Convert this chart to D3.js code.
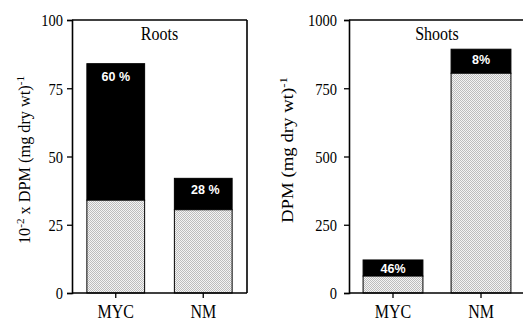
<!DOCTYPE html>
<html><head><meta charset="utf-8">
<script src="https://cdn.jsdelivr.net/npm/d3@7"></script>
<style>body{margin:0;background:#fff}svg{display:block}</style>
</head><body>
<script>
const categories = ["MYC", "NM"];
const rootsLower = [34, 30.5];
const rootsTotal = [84, 42];
const rootsPct = ["60 %", "28 %"];
const rootsTicks = [0, 25, 50, 75, 100];
const shootsLower = [62, 805];
const shootsTotal = [121, 893];
const shootsPct = ["46%", "8%"];
const shootsTicks = [0, 250, 500, 750, 1000];

const W = 523, H = 322;
const svg = d3.select("body").append("svg").attr("width", W).attr("height", H);
const defs = svg.append("defs");
const pat = defs.append("pattern").attr("id", "stip").attr("patternUnits", "userSpaceOnUse")
  .attr("width", 2).attr("height", 2);
pat.append("rect").attr("width", 2).attr("height", 2).attr("fill", "#f4f4f4");
pat.append("rect").attr("x", 0).attr("y", 0).attr("width", 1).attr("height", 1).attr("fill", "#bdbdbd");
pat.append("rect").attr("x", 1).attr("y", 1).attr("width", 1).attr("height", 1).attr("fill", "#bdbdbd");

const SERIF = "'Liberation Serif','Times New Roman',serif";
const SANS = "'Liberation Sans',Arial,sans-serif";
const VS = 1.2;

function drawPanel(o) {
  const y = d3.scaleLinear().domain([0, o.ticks[o.ticks.length - 1]]).range([293, 20]);
  const x = d3.scaleBand().domain(categories).range([o.x0, o.x1]).paddingInner(o.pi).paddingOuter(o.pi / 2);
  const g = svg.append("g");
  categories.forEach((c, i) => {
    g.append("rect").attr("x", x(c)).attr("width", x.bandwidth())
      .attr("y", y(o.total[i])).attr("height", y(o.lower[i]) - y(o.total[i]))
      .attr("fill", "#000").attr("stroke", "#000").attr("stroke-width", 1);
    g.append("rect").attr("x", x(c)).attr("width", x.bandwidth())
      .attr("y", y(o.lower[i])).attr("height", y(0) - y(o.lower[i]))
      .attr("fill", "url(#stip)").attr("stroke", "#000").attr("stroke-width", 1);
    g.append("text").attr("x", x(c) + x.bandwidth() / 2 + (o.pctDx ? o.pctDx[i] : 0))
      .attr("y", y(o.total[i]) + o.pctDy[i])
      .attr("text-anchor", "middle").attr("fill", "#fff")
      .attr("font-family", SANS).attr("font-weight", "bold").attr("font-size", 12.5)
      .text(o.pct[i]);
  });
  g.append("line").attr("x1", o.x0).attr("x2", o.frameRight).attr("y1", 20).attr("y2", 20)
    .attr("stroke", "#000").attr("stroke-width", 1.6);
  if (o.rightBorder) {
    g.append("line").attr("x1", o.x1).attr("x2", o.x1).attr("y1", 20).attr("y2", 293)
      .attr("stroke", "#000").attr("stroke-width", 1.6);
  }
  const ya = d3.axisLeft(y).tickValues(o.ticks).tickSize(5).tickPadding(o.tpad).tickFormat(d3.format("d"));
  const yg = g.append("g").attr("transform", `translate(${o.x0},0)`).call(ya);
  yg.select(".domain").attr("stroke-width", 1.6);
  yg.selectAll(".tick line").attr("stroke-width", 1.3);
  yg.selectAll(".tick text")
    .attr("font-family", SERIF).attr("font-size", 14.5).attr("fill", "#000")
    .attr("dy", null).attr("y", 0).attr("dominant-baseline", "central")
    .attr("transform", `scale(1,${VS})`);
  const xa = d3.axisBottom(x).tickSize(5).tickPadding(6);
  const xg = g.append("g").attr("transform", "translate(0,293)").call(xa);
  xg.select(".domain").attr("d", `M${o.x0},0H${o.frameRight}`).attr("stroke-width", 1.6);
  xg.selectAll(".tick line").attr("stroke-width", 1.3);
  xg.selectAll(".tick text").attr("font-family", SERIF).attr("font-size", 16).attr("fill", "#000")
    .attr("dy", null).attr("y", 0).attr("transform", `translate(0,25) scale(1,${VS})`);
  g.append("text").attr("transform", `translate(${(o.x0 + o.x1) / 2},${40}) scale(1,${VS})`)
    .attr("text-anchor", "middle").attr("font-family", SERIF).attr("font-size", 16).text(o.title);
  const yl = g.append("text").attr("transform", `translate(${o.labX},${o.labY}) rotate(-90)`)
    .attr("text-anchor", "middle").attr("font-family", SERIF).attr("font-size", 16)
    .attr("textLength", o.labLen).attr("lengthAdjust", "spacingAndGlyphs");
  o.label.forEach(p => {
    const ts = yl.append("tspan").text(p.t);
    if (p.sup) ts.attr("font-size", 11).attr("baseline-shift", "super");
  });
}

drawPanel({
  x0: 72, x1: 247, frameRight: 247, rightBorder: true, pi: 0.34,
  ticks: rootsTicks, lower: rootsLower, total: rootsTotal, pct: rootsPct,
  pctDy: [17, 16], pctDx: [0, 2], tpad: 4, title: "Roots",
  labX: 30, labY: 160, labLen: 168,
  label: [{t: "10"}, {t: "-2", sup: true}, {t: " x DPM (mg dry wt)"}, {t: "-1", sup: true}]
});
drawPanel({
  x0: 349, x1: 525, frameRight: 523, rightBorder: false, pi: 0.32,
  ticks: shootsTicks, lower: shootsLower, total: shootsTotal, pct: shootsPct,
  pctDy: [13, 15], tpad: 7, title: "Shoots",
  labX: 293, labY: 150, labLen: 146,
  label: [{t: "DPM (mg dry wt)"}, {t: "-1", sup: true}]
});
</script>
</body></html>
